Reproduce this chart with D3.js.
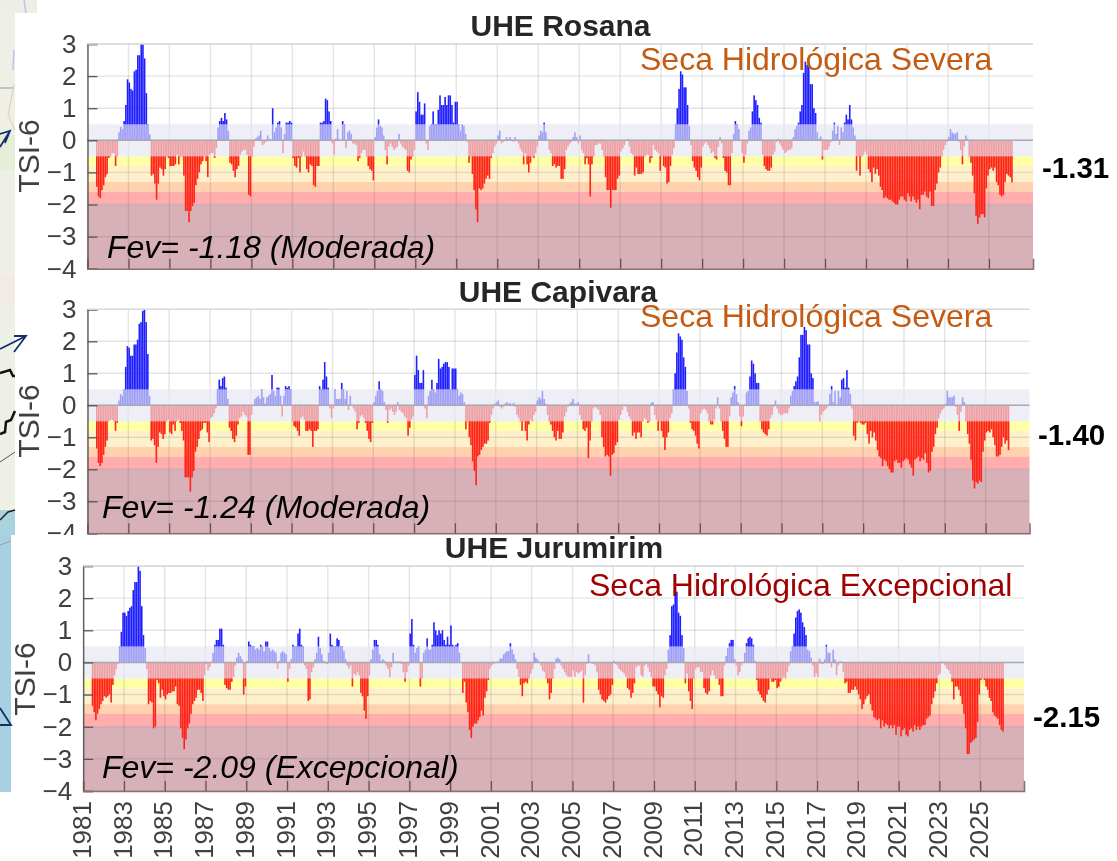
<!DOCTYPE html>
<html>
<head>
<meta charset="utf-8">
<script src="https://cdn.jsdelivr.net/npm/d3@7"></script>
<style>
  html, body { margin: 0; padding: 0; background: #fff; overflow: hidden; }
  svg { display: block; filter: blur(0.45px); }
  text { font-family: "Liberation Sans", Arial, sans-serif; }
</style>
</head>
<body>
<div id="chart"></div>
<script>
// monthly TSI-6, one row per year, series start in Jun 1981 and end in Feb 2026
const rosana = [
  -1.45,-1.75,-1.8,-1.55,-1.4,-1.15,-1.05,
  -0.55,-0.5,-0.4,-0.4,-0.8,-0.5,0.25,0.42,0.35,0.6,1.1,1.9,
  1.8,1.6,1.55,2.15,2.2,2.65,2.65,3.0,3.0,2.55,1.47,0.5,
  0.18,-1.1,-1.05,-1.35,-1.85,-1.35,-0.85,-0.9,-1.1,-0.9,-0.5,-0.55,
  -0.8,-0.8,-0.8,-0.75,-0.45,-0.75,-0.5,-0.5,-1.1,-2.2,-2.2,-2.55,
  -2.2,-2.05,-1.95,-1.4,-1.2,-1.0,-0.75,-0.65,-0.5,-0.65,-1.15,-0.45,
  -0.4,-0.4,-0.55,-0.25,0.4,0.6,0.7,0.6,0.85,0.65,0.3,-0.7,
  -0.75,-0.95,-1.15,-0.9,-0.8,-0.45,-0.35,-0.3,-0.3,-0.45,-1.7,-1.75,
  -0.5,-0.2,0.05,0.1,0.15,0.3,-0.15,-0.1,-0.05,0.15,0.05,0.02,
  1.0,0.25,0.4,0.55,0.6,0.4,-0.4,0.2,0.55,0.55,0.6,0.55,
  -0.55,-0.8,-0.85,-0.55,-1.0,-0.5,-0.35,-0.5,-0.9,-1.0,-0.75,-0.8,
  -1.4,-1.45,-0.8,-0.8,0.55,0.55,0.6,1.3,1.25,0.9,0.6,-0.1,
  -0.45,0.05,0.35,0.02,0.02,0.6,0.5,-0.25,0.25,0.3,0.2,-0.1,
  -0.1,-0.15,-0.65,-0.55,-0.4,-0.3,-0.3,-0.5,-0.8,-0.9,-0.95,-1.25,
  0.1,0.4,0.65,0.45,0.4,0.15,-0.3,-0.75,-0.2,-0.1,-0.2,-0.3,
  -0.25,-0.2,0.2,-0.1,-0.2,-0.25,-0.3,-0.95,-1.0,-0.6,-0.5,-0.3,
  0.9,1.5,1.2,0.8,0.8,1.15,-0.1,-0.3,0.45,0.5,0.9,0.5,
  0.5,0.95,1.4,1.1,1.1,1.35,1.1,1.4,1.4,1.1,0.55,1.2,
  1.2,0.5,0.3,0.5,0.45,0.2,-0.05,-0.7,-0.5,-1.05,-1.55,-2.15,
  -2.55,-1.5,-1.55,-1.5,-1.35,-1.2,-1.1,-1.2,-0.55,-0.4,-0.2,-0.1,
  0.15,0.3,-0.1,-0.05,0.02,0.1,0.03,0.1,0.02,-0.05,0.1,0.02,
  -0.1,-0.25,-0.35,-0.75,-0.4,-0.75,-1.0,-0.7,-0.5,-0.55,-0.4,-0.2,
  0.15,0.3,0.25,0.55,0.25,0.02,-0.3,-0.4,-0.8,-0.75,-0.85,-0.8,
  -0.8,-1.2,-1.2,-0.9,-0.3,-0.2,-0.1,-0.05,0.1,0.25,0.1,-0.1,
  0.15,-0.3,-0.4,-0.75,-0.55,-0.75,-1.75,-0.75,-0.5,-0.15,-0.15,-0.1,
  -0.1,-0.3,-0.5,-1.15,-1.55,-1.55,-2.1,-1.55,-1.55,-1.55,-1.2,-1.1,
  -0.35,-0.25,-0.15,-0.02,0.03,-0.2,-0.4,-0.45,-1.1,-0.85,-1.05,-1.05,
  -1.05,-1.0,-0.5,-0.45,-0.45,-0.7,-0.55,-0.15,-0.3,-0.35,-0.4,-0.95,
  -0.5,-0.8,-0.85,-1.35,-1.3,-0.8,-0.45,-0.25,0.5,1.0,1.6,2.15,
  2.05,1.65,1.65,1.1,0.45,-0.15,-0.65,-0.85,-0.95,-1.15,-1.25,-0.85,
  -0.2,-0.1,-0.05,-0.15,-0.25,-0.4,-0.35,-0.55,-0.6,-0.2,0.1,-0.1,
  -0.55,-0.95,-1.0,-1.4,-1.4,-0.4,0.2,0.6,0.5,0.35,0.02,-0.4,
  -0.7,-0.45,-0.1,0.3,0.4,0.9,1.4,1.25,1.1,0.7,0.55,-0.45,
  -0.8,-0.9,-0.95,-0.95,-0.85,-0.45,-0.35,-0.05,0.05,-0.1,-0.2,-0.3,
  -0.4,-0.35,-0.3,-0.3,-0.25,0.1,0.35,0.45,0.55,0.9,1.1,2.1,
  2.45,2.35,2.4,1.75,1.75,1.0,0.85,0.25,0.05,0.12,-0.6,-0.3,
  -0.3,-0.3,-0.2,-0.05,0.3,0.55,0.2,0.45,-0.15,0.4,0.25,0.55,
  0.8,0.65,1.1,0.65,0.4,0.15,-0.95,-0.5,-1.1,-0.5,-0.45,-0.35,
  -0.45,-0.9,-1.0,-1.3,-0.85,-1.05,-0.9,-1.1,-1.45,-1.55,-1.8,-1.75,
  -1.8,-1.85,-1.85,-1.9,-1.95,-2.0,-2.0,-1.85,-1.75,-1.75,-1.85,-1.9,
  -1.65,-1.75,-1.9,-1.75,-1.85,-1.95,-1.85,-2.15,-1.7,-1.7,-1.6,-1.75,
  -1.8,-1.6,-2.05,-2.05,-1.55,-1.35,-1.0,-0.85,-0.5,-0.3,-0.15,-0.05,
  0.1,0.35,0.25,0.2,0.22,0.25,-0.05,-0.3,-0.75,-0.2,0.15,0.05,
  -0.5,-0.7,-1.1,-1.65,-2.35,-2.6,-2.4,-2.3,-2.3,-2.4,-1.5,-1.1,
  -0.9,-0.85,-0.95,-0.85,-1.3,-1.4,-1.7,-1.75,-1.7,-1.3,-1.05,-1.1,
  -1.15,-1.31
];
const capivara = [
  -1.35,-1.8,-1.9,-1.8,-1.55,-1.3,-1.1,
  -0.5,-0.45,-0.45,-0.5,-0.8,-0.55,0.15,0.35,0.3,0.5,1.2,1.85,
  1.8,1.55,1.55,1.9,1.9,2.05,2.55,2.6,2.95,3.0,2.6,1.6,
  0.3,-1.1,-1.05,-1.25,-1.8,-1.3,-0.85,-0.9,-1.05,-0.9,-0.5,-0.45,
  -0.85,-0.9,-0.6,-0.8,-0.5,-0.45,-0.55,-0.8,-1.1,-2.25,-2.25,-2.25,
  -2.7,-2.25,-2.05,-1.45,-1.3,-1.05,-0.8,-0.75,-0.55,-0.55,-0.85,-1.15,
  -0.4,-0.35,-0.25,-0.1,0.5,0.8,0.6,0.85,0.9,0.55,0.2,-0.7,
  -0.8,-1.05,-1.15,-0.95,-0.6,-0.4,-0.35,-0.2,-0.3,-0.35,-1.55,-1.55,
  -0.3,0.02,0.2,0.25,0.3,0.2,0.5,0.25,0.05,0.25,0.3,0.35,
  0.95,0.45,0.3,0.55,0.55,0.3,-0.35,0.3,0.6,0.55,0.6,0.5,
  -0.5,-0.65,-0.7,-0.8,-0.95,-0.4,-0.35,-0.45,-0.8,-0.8,-0.75,-0.8,
  -1.3,-0.8,-0.8,-0.75,0.6,0.5,0.8,1.35,0.9,0.55,-0.1,-0.4,
  -0.1,0.5,0.2,0.2,0.2,0.7,0.5,0.2,0.45,-0.15,0.3,0.02,
  -0.1,-0.2,-0.75,-0.55,-0.35,-0.3,-0.4,-0.55,-0.8,-1.05,-1.15,-0.55,
  0.1,0.3,0.45,0.75,0.5,0.45,0.1,-0.15,-0.55,-0.15,-0.1,-0.2,
  -0.3,-0.2,0.1,-0.15,-0.2,-0.25,-0.35,-0.4,-0.95,-0.7,-0.45,-0.35,
  0.95,1.55,1.1,0.7,0.7,1.1,-0.1,-0.4,0.3,0.45,0.8,0.5,
  0.4,0.7,1.45,1.15,1.2,1.3,1.35,1.35,1.2,0.5,1.15,1.15,
  1.15,0.5,0.3,0.4,0.35,0.1,-0.75,-0.5,-1.0,-1.25,-1.75,-2.05,
  -2.5,-1.6,-1.55,-1.4,-1.3,-1.2,-1.2,-1.1,-0.55,-0.3,-0.1,0.05,
  0.1,0.15,-0.05,-0.1,-0.05,0.05,0.1,0.05,0.07,0.02,0.08,-0.05,
  -0.3,-0.4,-0.5,-0.8,-0.5,-0.8,-1.1,-0.6,-0.45,-0.5,-0.3,-0.2,
  0.15,0.25,0.2,0.45,0.2,0.05,-0.3,-0.5,-0.6,-0.8,-1.0,-1.1,
  -0.8,-1.05,-1.05,-0.85,-0.35,-0.2,-0.05,0.05,0.1,0.2,0.05,0.05,
  0.1,-0.3,-0.45,-0.75,-0.8,-0.7,-1.65,-1.1,-0.5,-0.1,-0.05,-0.1,
  -0.15,-0.3,-1.0,-1.3,-1.6,-1.55,-1.6,-2.2,-1.55,-1.5,-1.25,-1.15,
  -0.45,-0.3,-0.15,0.02,-0.05,-0.2,-0.35,-0.45,-0.95,-0.85,-1.05,-0.85,
  -0.85,-1.0,-0.5,-0.4,-0.45,-0.55,-0.5,0.08,0.1,-0.3,-0.45,-0.8,
  -0.5,-0.8,-1.0,-1.4,-1.0,-0.85,-0.4,-0.25,0.5,1.0,1.65,2.25,
  2.15,2.05,1.5,1.2,0.45,-0.1,-0.55,-0.75,-0.8,-0.95,-1.2,-1.35,
  -0.25,-0.15,-0.1,-0.15,-0.25,-0.5,-0.6,-0.6,-0.45,-0.1,0.25,-0.1,
  -0.5,-0.8,-1.05,-1.3,-1.3,-0.35,0.25,0.4,0.6,0.35,0.1,-0.35,
  -0.65,-0.35,0.02,0.4,0.45,0.9,1.4,1.3,1.0,0.7,0.7,-0.5,
  -0.75,-0.85,-0.9,-0.95,-0.75,-0.4,-0.3,-0.05,0.15,-0.1,-0.25,-0.3,
  -0.3,-0.25,-0.25,-0.25,-0.1,0.3,0.45,0.6,0.75,0.9,1.5,2.2,
  2.2,2.45,2.35,1.9,1.9,1.0,0.85,0.1,0.1,0.12,-0.5,-0.3,
  -0.2,-0.15,-0.1,0.02,0.35,0.6,0.1,0.45,0.02,0.45,0.25,0.8,
  0.85,0.55,1.1,0.55,0.35,-0.1,-0.95,-1.1,-0.55,-0.5,-0.55,-0.6,
  -0.6,-0.55,-0.9,-1.2,-0.8,-1.0,-0.85,-1.1,-1.4,-1.6,-1.65,-1.9,
  -1.7,-1.75,-1.9,-2.0,-2.1,-2.1,-1.75,-1.7,-1.8,-1.8,-1.95,-1.75,
  -1.7,-1.65,-1.7,-1.85,-1.95,-2.2,-1.7,-1.65,-1.6,-1.75,-1.65,-1.7,
  -1.5,-1.8,-2.1,-2.05,-1.45,-1.3,-0.9,-0.7,-0.4,-0.25,-0.15,-0.1,
  0.05,0.45,0.25,0.25,0.25,0.3,-0.05,-0.3,-0.8,-0.2,0.25,0.1,
  -0.5,-0.9,-1.2,-1.7,-2.35,-2.6,-2.4,-2.45,-2.35,-2.4,-1.45,-1.1,
  -0.85,-0.8,-0.85,-0.75,-1.0,-1.25,-1.6,-1.6,-1.55,-1.3,-1.0,-1.2,
  -1.1,-1.4
];
const jurumirim = [
  -1.35,-1.55,-1.8,-1.6,-1.45,-1.3,-1.2,
  -1.05,-1.1,-1.05,-1.0,-1.25,-0.7,-0.4,-0.2,-0.05,0.5,0.95,1.55,
  1.55,1.45,1.6,1.7,1.75,2.25,2.5,2.5,3.0,2.85,1.75,0.85,
  0.45,-0.2,-1.3,-1.2,-1.25,-2.05,-2.0,-0.55,-0.65,-1.1,-0.85,-1.05,
  -1.15,-1.0,-0.95,-0.95,-0.9,-0.9,-0.75,-1.3,-1.35,-2.05,-2.35,-2.7,
  -2.4,-2.05,-1.9,-1.6,-1.3,-1.2,-1.1,-0.85,-0.85,-0.95,-1.2,-0.4,
  -0.05,-0.25,-0.15,0.02,0.3,0.55,0.7,0.7,1.05,1.05,0.55,-0.7,
  -0.8,-0.85,-0.85,-0.6,-0.45,-0.1,0.15,0.3,0.2,0.1,-1.0,-0.75,
  0.05,0.65,0.55,0.5,0.5,0.4,0.45,0.4,0.55,0.5,0.35,0.65,
  0.65,0.45,0.35,0.4,0.35,0.3,-0.2,0.05,0.3,0.35,0.3,0.25,
  -0.6,-0.2,0.1,0.55,0.5,0.5,0.9,1.05,0.55,0.5,-0.1,-0.2,
  -1.2,-1.15,-0.3,-0.15,0.1,0.3,0.8,0.45,0.25,0.05,0.02,-0.05,
  0.3,0.9,0.55,0.5,0.5,0.75,0.7,0.5,0.5,0.35,0.1,-0.1,
  -0.2,-0.1,-0.75,-0.35,-0.4,-0.3,-0.4,-0.95,-1.05,-1.5,-1.75,-1.05,
  -0.4,0.1,0.4,0.7,0.7,0.55,0.25,0.05,0.1,0.05,-0.1,-0.2,
  -0.45,-0.15,0.3,0.02,0.02,0.03,0.03,-0.05,-0.3,-0.6,-0.3,-0.1,
  0.9,1.35,0.55,0.3,0.45,0.5,-0.75,-0.5,0.3,0.4,0.75,0.4,
  0.4,0.55,1.25,1.0,0.85,1.0,0.9,1.0,0.7,0.55,0.8,0.55,
  1.15,0.55,0.5,0.55,0.6,0.3,-0.02,-0.95,-0.6,-1.25,-1.55,-2.1,
  -2.35,-2.0,-1.9,-1.9,-1.8,-1.7,-1.5,-1.65,-1.1,-0.9,-0.55,-0.2,
  -0.1,-0.05,-0.02,0.02,0.02,0.12,0.12,0.25,0.3,0.35,0.35,0.6,
  0.4,0.25,0.1,-0.2,-0.45,-0.7,-1.05,-0.65,-0.6,-0.65,-0.5,-0.35,
  -0.2,0.3,0.15,0.1,0.02,-0.1,-0.25,-0.3,-0.5,-0.65,-1.15,-0.95,
  -0.5,-0.2,0.12,0.15,0.1,-0.1,-0.2,-0.3,-0.4,-0.45,-0.45,-0.45,
  -0.25,-0.45,-0.3,-0.35,-0.3,-0.25,-1.25,-0.4,-0.05,0.25,-0.02,-0.03,
  -0.05,-0.1,-0.3,-0.85,-1.0,-1.15,-1.2,-1.25,-1.15,-1.05,-1.0,-0.7,
  0.05,-0.05,-0.1,-0.2,-0.25,-0.3,-0.35,-0.45,-0.8,-0.85,-1.1,-0.95,
  -0.65,-0.15,-0.1,-0.1,-0.4,-0.45,-0.1,-0.05,-0.15,-0.3,-0.45,-0.75,
  -0.75,-0.9,-1.0,-1.4,-1.05,-1.1,-0.4,-0.2,0.4,0.85,1.75,1.8,
  2.4,2.2,1.55,1.45,0.85,0.45,-0.65,-0.35,-0.9,-1.2,-1.45,-0.5,
  -0.2,-0.15,-0.15,-0.3,-0.3,-0.8,-0.95,-1.0,-0.9,-0.4,-0.25,-0.4,
  -0.5,-0.5,-0.7,-1.05,-1.05,-0.1,0.2,0.45,0.6,0.7,0.7,0.1,
  -0.1,-0.4,-0.3,-0.1,0.02,0.3,0.6,0.75,0.8,0.75,0.55,0.05,
  -0.55,-0.9,-1.0,-1.1,-1.2,-1.25,-1.0,-0.85,-0.5,-0.6,-0.6,-0.55,
  -0.8,-0.75,-0.6,-0.5,-0.45,-0.5,-0.3,-0.1,0.35,0.5,0.9,1.4,
  1.6,1.65,1.55,1.25,1.1,0.85,0.4,0.35,0.15,-0.1,-0.45,-0.35,
  -0.45,0.12,-0.05,-0.05,0.1,0.55,0.3,0.3,-0.15,0.4,0.1,-0.4,
  -0.1,0.03,0.03,-0.3,-0.65,-0.6,-0.95,-0.95,-0.85,-0.85,-0.75,-0.85,
  -1.0,-1.15,-1.45,-1.3,-1.15,-1.05,-1.0,-1.3,-1.5,-1.7,-1.75,-1.8,
  -1.75,-2.05,-1.8,-2.0,-1.9,-1.95,-2.05,-1.95,-2.05,-1.95,-2.25,-2.0,
  -2.0,-2.3,-2.1,-2.05,-2.25,-2.3,-2.1,-2.05,-2.15,-1.95,-2.1,-2.0,
  -2.1,-2.0,-1.95,-1.95,-1.75,-1.7,-1.65,-1.3,-1.1,-0.9,-0.65,-0.4,
  -0.35,0.03,-0.03,-0.1,-0.2,-0.25,-0.35,-0.6,-1.15,-0.75,-0.75,-0.85,
  -1.05,-1.3,-1.6,-2.05,-2.85,-2.85,-2.5,-2.45,-2.4,-2.35,-1.85,-1.0,
  -0.55,-0.5,-0.55,-0.75,-0.85,-1.1,-1.2,-1.55,-1.65,-1.7,-1.75,-1.95,
  -2.1,-2.15
];

const titles = ["UHE Rosana", "UHE Capivara", "UHE Jurumirim"];
const fevLabels = ["Fev= -1.18 (Moderada)", "Fev= -1.24 (Moderada)", "Fev= -2.09 (Excepcional)"];
const droughtLabels = ["Seca Hidrológica Severa", "Seca Hidrológica Severa", "Seca Hidrológica Excepcional"];
const lastValues = ["-1.31", "-1.40", "-2.15"];
const yTicks = [3, 2, 1, 0, -1, -2, -3, -4];
const yearTicks = d3.range(1981, 2026, 2);
// drought classes, upper and lower limit of each band
const bandTop = [-0.5, -0.8, -1.3, -1.6, -2];
const bandBottom = [-0.8, -1.3, -1.6, -2, -4];
const bandColors = ["#ffffa6", "#fff0cc", "#ffd1ad", "#ffadad", "#d8b0b8"];

const WIDTH = 1117;
const HEIGHT = 861;
const boxes = [
  { left: 87.5, right: 1033, top: 44, bottom: 268.7, titleX: 560.5, titleY: 36, fevX: 107, fevY: 258, dryX: 640, dryY: 70, lastX: 1042, lastY: 178, tsiX: 39, tsiY: 156 },
  { left: 87.5, right: 1029.5, top: 309.3, bottom: 533.3, titleX: 558, titleY: 302, fevX: 102, fevY: 518, dryX: 640, dryY: 327, lastX: 1038, lastY: 445, tsiX: 39, tsiY: 421 },
  { left: 83.2, right: 1024, top: 566, bottom: 791, titleX: 554, titleY: 558, fevX: 102, fevY: 778, dryX: 589, dryY: 596, lastX: 1033, lastY: 727, tsiX: 35, tsiY: 679 },
];

const svg = d3.select("#chart").append("svg").attr("width", WIDTH).attr("height", HEIGHT);

drawBackdrop();
drawPanel(rosana, 0);
drawPanel(capivara, 1);
// the third picture was pasted over the bottom of the second one
svg.append("rect").attr("x", 11).attr("y", 535).attr("width", WIDTH).attr("height", HEIGHT).attr("fill", "#fff");
svg.append("rect").attr("x", 0).attr("y", 792).attr("width", 11).attr("height", 70).attr("fill", "#fff");
drawPanel(jurumirim, 2, true);
drawArrows();

function drawPanel(values, n, showYears) {
  const box = boxes[n];
  const x = d3.scaleLinear().domain([1981, 2027.15]).range([box.left, box.right]);
  const y = d3.scaleLinear().domain([-4, 3]).range([box.bottom, box.top]);
  const monthX = (i) => x(1981 + (5 + i) / 12);
  const g = svg.append("g");

  // class bands
  g.selectAll(".band")
    .data(bandColors)
    .enter()
    .append("rect")
    .attr("x", box.left)
    .attr("width", box.right - box.left)
    .attr("y", (d, i) => y(bandTop[i]))
    .attr("height", (d, i) => y(bandBottom[i]) - y(bandTop[i]))
    .attr("fill", (d) => d);

  // grid
  g.selectAll(".hgrid")
    .data(yTicks)
    .enter()
    .append("line")
    .attr("x1", box.left)
    .attr("x2", box.right)
    .attr("y1", (d) => y(d))
    .attr("y2", (d) => y(d))
    .attr("stroke", "rgba(90,90,90,0.16)")
    .attr("stroke-width", 1.4);
  g.selectAll(".vgrid")
    .data(yearTicks)
    .enter()
    .append("line")
    .attr("x1", (d) => x(d))
    .attr("x2", (d) => x(d))
    .attr("y1", box.top)
    .attr("y2", box.bottom)
    .attr("stroke", "rgba(90,90,90,0.16)")
    .attr("stroke-width", 1.4);

  // monthly bars
  g.selectAll(".bar")
    .data(values)
    .enter()
    .append("rect")
    .attr("x", (d, i) => monthX(i))
    .attr("width", 1.6)
    .attr("y", (d) => y(Math.max(d, 0)))
    .attr("height", (d) => Math.abs(y(d) - y(0)))
    .attr("fill", (d) => (d >= 0 ? "#2020ff" : "#ff2418"));

  // normal range veil over the bars
  g.append("rect")
    .attr("x", box.left)
    .attr("width", box.right - box.left)
    .attr("y", y(0.5))
    .attr("height", y(-0.5) - y(0.5))
    .attr("fill", "rgb(229,229,241)")
    .attr("fill-opacity", 0.65);

  // zero line
  g.append("line")
    .attr("x1", box.left)
    .attr("x2", box.right)
    .attr("y1", y(0))
    .attr("y2", y(0))
    .attr("stroke", "#a9a9b4")
    .attr("stroke-width", 1.4);

  // axes, ticks point inwards as in matlab
  const yAxis = g
    .append("g")
    .attr("transform", `translate(${box.left}, 0)`)
    .call(d3.axisLeft(y).tickValues(yTicks).tickSize(-10).tickPadding(11).tickFormat(d3.format("d")));
  const xAxis = g
    .append("g")
    .attr("transform", `translate(0, ${box.bottom})`)
    .call(d3.axisBottom(x).tickValues(yearTicks).tickSize(-10).tickFormat(showYears ? d3.format("d") : ""));

  yAxis.select(".domain").attr("stroke", "#555").attr("stroke-width", 1.3);
  yAxis.selectAll(".tick line").attr("stroke", "#555").attr("stroke-width", 1.3);
  yAxis.selectAll("text").attr("font-size", "26px").attr("fill", "#404040").attr("font-family", "Liberation Sans");
  xAxis.select(".domain").attr("stroke", "#8a6f74").attr("stroke-width", 1.6);
  xAxis.selectAll(".tick line").attr("stroke", "#6b4f55").attr("stroke-width", 1.3);
  xAxis.selectAll("text")
    .attr("font-size", "26px")
    .attr("fill", "#404040")
    .attr("font-family", "Liberation Sans")
    .attr("text-anchor", "end")
    .attr("transform", "rotate(-90)")
    .attr("x", -10)
    .attr("y", -2)
    .attr("dy", "0.35em");

  // top edge
  g.append("line")
    .attr("x1", box.left)
    .attr("x2", box.right)
    .attr("y1", box.top)
    .attr("y2", box.top)
    .attr("stroke", "#d8d8d8")
    .attr("stroke-width", 1.3);

  g.append("text")
    .attr("transform", `translate(${box.tsiX}, ${box.tsiY}) rotate(-90)`)
    .attr("text-anchor", "middle")
    .attr("font-size", "30px")
    .attr("fill", "#404040")
    .text("TSI-6");
  g.append("text")
    .attr("x", box.titleX)
    .attr("y", box.titleY)
    .attr("text-anchor", "middle")
    .attr("font-size", "30px")
    .attr("font-weight", "bold")
    .attr("fill", "#262626")
    .text(titles[n]);
  g.append("text")
    .attr("x", box.fevX)
    .attr("y", box.fevY)
    .attr("font-size", "32px")
    .attr("font-style", "italic")
    .attr("fill", "#000")
    .text(fevLabels[n]);
  g.append("text")
    .attr("x", box.dryX)
    .attr("y", box.dryY)
    .attr("font-size", "32px")
    .attr("fill", n === 2 ? "#a00000" : "#c55a11")
    .text(droughtLabels[n]);
  g.append("text")
    .attr("x", box.lastX)
    .attr("y", box.lastY)
    .attr("font-size", "29.5px")
    .attr("font-weight", "bold")
    .attr("fill", "#000")
    .text(lastValues[n]);
}

// slices of the map that sits behind the charts on the slide
function drawBackdrop() {
  svg.append("rect").attr("x", 0).attr("y", 0).attr("width", 37).attr("height", 13).attr("fill", "#eeeee6");
  svg.append("rect").attr("x", 0).attr("y", 13).attr("width", 15).attr("height", 522).attr("fill", "#eef0e6");
  svg.append("rect").attr("x", 0).attr("y", 510).attr("width", 15).attr("height", 25).attr("fill", "#a9d3de");
  svg.append("rect").attr("x", 0).attr("y", 135).attr("width", 15).attr("height", 35).attr("fill", "#e6edd8");
  svg.append("rect").attr("x", 0).attr("y", 275).attr("width", 15).attr("height", 30).attr("fill", "#f1ebe4");
  const lines = [
    ["M24,0L26,13", "#b9c4e6", 1.5],
    ["M14,50L13,70", "#b9c4e6", 1.5],
    ["M0,88L13,88", "#999", 1],
    ["M14,85L8,115L15,130", "#e6c7b8", 1],
    ["M0,373L10,370L13,376L15,376", "#111", 2.5],
    ["M0,434L5,432L6,422L11,420L15,411", "#111", 2.5],
    ["M0,462L15,452", "#555", 1],
    ["M0,520L8,512L15,510", "#222", 1.5],
  ];
  lines.forEach((d) => {
    svg.append("path").attr("d", d[0]).attr("fill", "none").attr("stroke", d[1]).attr("stroke-width", d[2]);
  });
  svg.append("rect").attr("x", 0).attr("y", 535).attr("width", 11).attr("height", 257).attr("fill", "#a9d0e0");
  svg.append("path").attr("d", "M0,545L11,541").attr("stroke", "#8ea6b0").attr("stroke-width", 1).attr("fill", "none");
}

function drawArrows() {
  const arrows = ["M0,147L10,131M0,134L10,131L5,143", "M0,349L26,336M14,336L26,336L14,352", "M0,708L11,725L0,725"];
  arrows.forEach((d) => {
    svg.append("path").attr("d", d).attr("fill", "none").attr("stroke", "#14306a").attr("stroke-width", 1.8);
  });
}
</script>
</body>
</html>
